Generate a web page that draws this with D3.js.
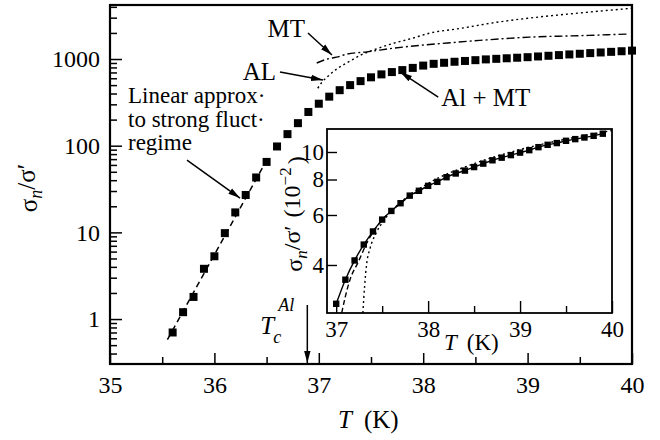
<!DOCTYPE html>
<html>
<head>
<meta charset="utf-8">
<script src="https://cdn.jsdelivr.net/npm/d3@7"></script>
</head>
<body style="margin:0">
<svg id="chart" width="660" height="440" font-family="Liberation Serif"></svg>
<script>
// measured points (main panel)
const mainTemps = [35.6, 35.7, 35.8, 35.9, 36.0, 36.1, 36.2, 36.3, 36.4, 36.5,
  36.6, 36.7, 36.8, 36.9, 37.0, 37.1, 37.2, 37.3, 37.4, 37.5,
  37.6, 37.7, 37.8, 37.9, 38.0, 38.1, 38.2, 38.3, 38.4, 38.5,
  38.6, 38.7, 38.8, 38.9, 39.0, 39.1, 39.2, 39.3, 39.4, 39.5,
  39.6, 39.7, 39.8, 39.9, 40.0];
const mainSigma = [0.7, 1.2, 1.8, 3.8, 5.3, 9.8, 17, 27, 43, 65,
  98, 136, 182, 245, 305, 368, 437, 500, 556, 615,
  665, 707, 745, 790, 840, 880, 905, 930, 950, 970,
  990, 1005, 1020, 1035, 1050, 1070, 1090, 1110, 1130, 1150,
  1170, 1190, 1210, 1230, 1250];

// linear approx (dashed)
const linTemps = [35.55, 36.5];
const linSigma = [0.58, 68];

// MT (dash-dot) and AL (dotted) theory curves
const mtTemps = [36.98, 37.08, 37.17, 37.27, 37.46, 37.71, 38.0, 38.23, 38.54, 39.02, 39.5, 39.95];
const mtSigma = [900, 1000, 1050, 1140, 1210, 1330, 1450, 1530, 1640, 1790, 1860, 1940];
const alTemps = [36.99, 37.03, 37.08, 37.16, 37.23, 37.32, 37.4, 37.5, 37.7, 37.87, 38.07, 38.35, 38.7, 39.0, 39.5, 40.0];
const alSigma = [460, 540, 620, 750, 850, 980, 1110, 1240, 1500, 1700, 2000, 2250, 2650, 2950, 3400, 3850];

// inset (units of 10^-2)
const insetTemps = [37.0, 37.1, 37.2, 37.3, 37.4, 37.5, 37.6, 37.7, 37.8, 37.9,
  38.0, 38.1, 38.2, 38.3, 38.4, 38.5, 38.6, 38.7, 38.8, 38.9,
  39.0, 39.1, 39.2, 39.3, 39.4, 39.5, 39.6, 39.7, 39.8, 39.9];
const insetSigma = [2.92, 3.55, 4.15, 4.72, 5.25, 5.78, 6.2, 6.6, 7.02, 7.3,
  7.6, 7.85, 8.15, 8.4, 8.6, 8.85, 9.1, 9.35, 9.55, 9.75,
  9.95, 10.15, 10.4, 10.6, 10.75, 10.95, 11.1, 11.25, 11.4, 11.6];
const insetDashTemps = [37.06, 37.1, 37.15, 37.24, 37.35, 37.5, 37.7, 38.0];
const insetDashSigma = [2.71, 3.1, 3.55, 4.1, 4.9, 5.75, 6.6, 7.6];
const insetDotTemps = [37.29, 37.31, 37.33, 37.37, 37.43, 37.52, 37.7, 38.0, 38.5, 39.0, 39.5, 40.0];
const insetDotSigma = [2.71, 3.4, 4.0, 4.6, 5.15, 5.75, 6.65, 7.75, 9.1, 10.2, 11.1, 11.9];

const mainXTicks = [35, 36, 37, 38, 39, 40];
const mainXMinor = [35.5, 36.5, 37.5, 38.5, 39.5];
const mainYTicks = [1, 10, 100, 1000];
const insetXTicks = [37, 38, 39, 40];
const insetXMinor = [37.5, 38.5, 39.5];
const insetYTicks = [4, 6, 8, 10];

const tcTemp = 36.89;

const svg = d3.select("#chart");

svg.append("defs").append("marker")
  .attr("id", "arrow")
  .attr("viewBox", "0 0 12 8")
  .attr("refX", 12).attr("refY", 4)
  .attr("markerWidth", 12).attr("markerHeight", 8)
  .attr("markerUnits", "userSpaceOnUse")
  .attr("orient", "auto")
  .append("path")
  .attr("d", "M0,0.8 L12,4 L0,7.2 Z")
  .attr("fill", "#000");

// ---- main panel ----
const mLeft = 110, mRight = 632, mTop = 5, mBottom = 364;
const x = d3.scaleLinear().domain([35, 40]).range([mLeft, mRight]);
const y = d3.scaleLog().domain([0.303, 4200]).range([mBottom, mTop]);

const pts = (ts, vs) => ts.map((t, i) => [t, vs[i]]);

function styleAxis(g, size) {
  g.attr("font-family", null).attr("font-size", size);
  g.select(".domain").remove();
  g.selectAll("text").attr("font-size", size);
}

// y axis
const yMinor = y.ticks().filter(v => !mainYTicks.includes(v));
svg.append("g")
  .attr("transform", `translate(${mLeft},0)`)
  .call(d3.axisLeft(y).tickValues(yMinor).tickSize(-7).tickFormat(""))
  .call(styleAxis, 24);
svg.append("g")
  .attr("transform", `translate(${mLeft},0)`)
  .call(d3.axisLeft(y).tickValues(mainYTicks).tickSize(-12).tickPadding(10).tickFormat(d3.format("d")))
  .call(styleAxis, 24);

// x axis
svg.append("g")
  .attr("transform", `translate(0,${mBottom})`)
  .call(d3.axisBottom(x).tickValues(mainXMinor).tickSize(-7).tickFormat(""))
  .call(styleAxis, 24);
svg.append("g")
  .attr("transform", `translate(0,${mBottom})`)
  .call(d3.axisBottom(x).tickValues(mainXTicks).tickSize(-11).tickPadding(12).tickFormat(d3.format("d")))
  .call(styleAxis, 24);

svg.selectAll(".tick line").attr("stroke-width", 1.5);

svg.append("rect")
  .attr("x", mLeft).attr("y", mTop)
  .attr("width", mRight - mLeft).attr("height", mBottom - mTop)
  .attr("fill", "none").attr("stroke", "#000").attr("stroke-width", 2.2);

const line = d3.line().x(d => x(d[0])).y(d => y(d[1])).curve(d3.curveMonotoneX);

svg.append("path")
  .attr("d", line(pts(linTemps, linSigma)))
  .attr("fill", "none").attr("stroke", "#000").attr("stroke-width", 1.5)
  .attr("stroke-dasharray", "6,4");

svg.append("path")
  .attr("d", line(pts(mtTemps, mtSigma)))
  .attr("fill", "none").attr("stroke", "#000").attr("stroke-width", 1.4)
  .attr("stroke-dasharray", "8,3,2,3");

svg.append("path")
  .attr("d", line(pts(alTemps, alSigma)))
  .attr("fill", "none").attr("stroke", "#000").attr("stroke-width", 1.4)
  .attr("stroke-dasharray", "2,3");

svg.append("g").selectAll("rect")
  .data(pts(mainTemps, mainSigma))
  .join("rect")
  .attr("x", d => x(d[0]) - 4).attr("y", d => y(d[1]) - 4)
  .attr("width", 8).attr("height", 8)
  .attr("fill", "#000");

// axis titles
svg.append("text")
  .attr("transform", "translate(37,188) rotate(-90)")
  .attr("text-anchor", "middle").attr("font-size", 25)
  .call(t => {
    t.append("tspan").text("σ");
    t.append("tspan").attr("font-style", "italic").attr("font-size", 18).attr("dy", "0.3em").text("n");
    t.append("tspan").attr("dy", "-0.3em").text("/σ′");
  });

svg.append("text")
  .attr("x", 338).attr("y", 428).attr("font-size", 25)
  .call(t => {
    t.append("tspan").attr("font-style", "italic").text("T");
    t.append("tspan").attr("dx", 12).text("(K)");
  });

// annotations: arrow tip in data space, tail as offset
function arrow(t, v, dx, dy) {
  const tx = x(t), ty = y(v);
  svg.append("line")
    .attr("x1", tx + dx).attr("y1", ty + dy)
    .attr("x2", tx).attr("y2", ty)
    .attr("stroke", "#000").attr("stroke-width", 1.5)
    .attr("marker-end", "url(#arrow)");
  return [tx + dx, ty + dy];
}

let p = arrow(37.126, 1112, -24, -22);
svg.append("text").attr("x", p[0] - 3).attr("y", p[1] + 4)
  .attr("text-anchor", "end").attr("font-size", 25).text("MT");

p = arrow(37.04, 572, -43, -8);
svg.append("text").attr("x", p[0] - 4).attr("y", p[1] + 8)
  .attr("text-anchor", "end").attr("font-size", 25).text("AL");

p = arrow(37.78, 708, 38, 25);
svg.append("text").attr("x", p[0] + 3).attr("y", p[1] + 9)
  .attr("font-size", 25).text("Al + MT");

p = arrow(36.245, 24.9, -53, -38);
const note = svg.append("text").attr("x", 128).attr("y", 103).attr("font-size", 23);
["Linear approx·", "to strong fluct·", "regime"].forEach((s, i) => {
  note.append("tspan").attr("x", 128).attr("y", 103 + i * 23.5).text(s);
});

// Tc arrow
svg.append("line")
  .attr("x1", x(tcTemp)).attr("y1", 305)
  .attr("x2", x(tcTemp)).attr("y2", mBottom - 1)
  .attr("stroke", "#000").attr("stroke-width", 1.5)
  .attr("marker-end", "url(#arrow)");
svg.append("text").attr("x", x(tcTemp) - 47).attr("y", 334)
  .attr("font-size", 25).attr("font-style", "italic").text("T");
svg.append("text").attr("x", x(tcTemp) - 34).attr("y", 343)
  .attr("font-size", 18).attr("font-style", "italic").text("c");
svg.append("text").attr("x", x(tcTemp) - 29).attr("y", 311)
  .attr("font-size", 18).attr("font-style", "italic").text("Al");

// ---- inset ----
const iL = 327, iR = 612, iT = 129, iB = 313;
const ix = d3.scaleLinear().domain([36.9, 40]).range([iL, iR]);
const iy = d3.scaleLog().domain([2.71, 12.05]).range([iB, iT]);

const inset = svg.append("g");
inset.append("rect")
  .attr("x", iL).attr("y", iT).attr("width", iR - iL).attr("height", iB - iT)
  .attr("fill", "#fff");

inset.append("g")
  .attr("transform", `translate(0,${iB})`)
  .call(d3.axisBottom(ix).tickValues(insetXMinor).tickSize(-7).tickFormat(""))
  .call(styleAxis, 23);
inset.append("g")
  .attr("transform", `translate(0,${iB})`)
  .call(d3.axisBottom(ix).tickValues(insetXTicks).tickSize(-12).tickPadding(8).tickFormat(d3.format("d")))
  .call(styleAxis, 23);
inset.append("g")
  .attr("transform", `translate(${iL},0)`)
  .call(d3.axisLeft(iy).tickValues(insetYTicks).tickSize(-10).tickPadding(3).tickFormat(d3.format("d")))
  .call(styleAxis, 23);
inset.selectAll(".tick line").attr("stroke-width", 1.4);

inset.append("rect")
  .attr("x", iL).attr("y", iT).attr("width", iR - iL).attr("height", iB - iT)
  .attr("fill", "none").attr("stroke", "#000").attr("stroke-width", 1.8);

const iline = d3.line().x(d => ix(d[0])).y(d => iy(d[1])).curve(d3.curveMonotoneX);

inset.append("path")
  .attr("d", iline(pts(insetDotTemps, insetDotSigma)))
  .attr("fill", "none").attr("stroke", "#000").attr("stroke-width", 1.4)
  .attr("stroke-dasharray", "2,3");
inset.append("path")
  .attr("d", iline(pts(insetDashTemps, insetDashSigma)))
  .attr("fill", "none").attr("stroke", "#000").attr("stroke-width", 1.4)
  .attr("stroke-dasharray", "5,3");
inset.append("path")
  .attr("d", iline(pts(insetTemps, insetSigma)))
  .attr("fill", "none").attr("stroke", "#000").attr("stroke-width", 1.4);
inset.append("g").selectAll("rect")
  .data(pts(insetTemps, insetSigma))
  .join("rect")
  .attr("x", d => ix(d[0]) - 3.2).attr("y", d => iy(d[1]) - 3.2)
  .attr("width", 6.4).attr("height", 6.4)
  .attr("fill", "#000");

inset.append("text")
  .attr("transform", "translate(302,214) rotate(-90)")
  .attr("text-anchor", "middle").attr("font-size", 24)
  .call(t => {
    t.append("tspan").text("σ");
    t.append("tspan").attr("font-style", "italic").attr("font-size", 17).attr("dy", "0.3em").text("n");
    t.append("tspan").attr("dy", "-0.3em").text("/σ′");
    t.append("tspan").attr("dx", 8).text("(10");
    t.append("tspan").attr("font-size", 17).attr("dy", "-0.55em").text("−2");
    t.append("tspan").attr("dy", "0.55em").attr("dx", 3).text(")");
  });

inset.append("text")
  .attr("x", 444).attr("y", 350).attr("font-size", 23)
  .call(t => {
    t.append("tspan").attr("font-style", "italic").text("T");
    t.append("tspan").attr("dx", 10).text("(K)");
  });

// serif face on every text, set directly on the element
svg.selectAll("text")
  .attr("font-family", "Liberation Serif")
  .style("font-family", "Liberation Serif")
  .attr("fill", "#000");
</script>
</body>
</html>
